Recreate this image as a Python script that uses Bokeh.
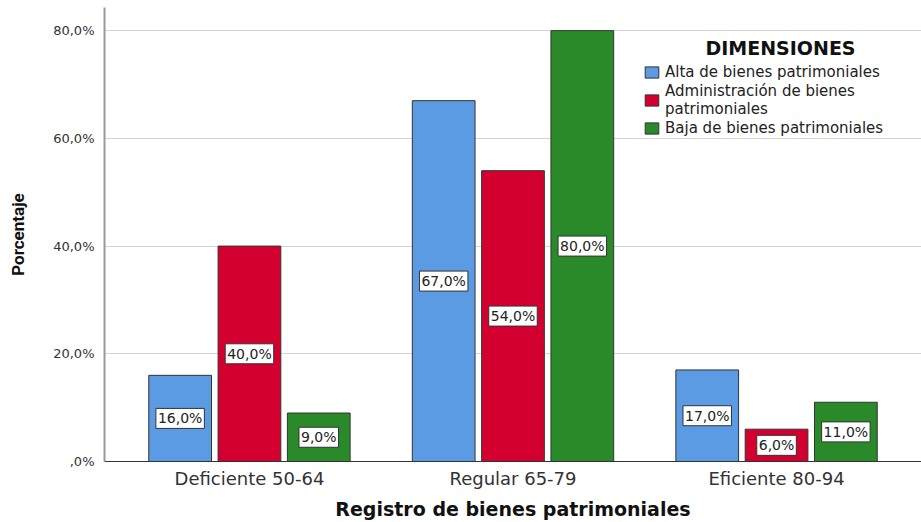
from bokeh.plotting import figure
from bokeh.models import (ColumnDataSource, FactorRange, Range1d, FixedTicker,
                          Legend, LegendItem, Label)
from bokeh.core.properties import value
from bokeh.transform import dodge
from bokeh.embed import file_html
from bokeh.resources import INLINE

categories = ["Deficiente 50-64", "Regular 65-79", "Eficiente 80-94"]
series_names = ["Alta de bienes patrimoniales",
                "Administración de bienes\npatrimoniales",
                "Baja de bienes patrimoniales"]
alta = [16.0, 67.0, 17.0]
administracion = [40.0, 54.0, 6.0]
baja = [9.0, 80.0, 11.0]
y_ticks = [0, 20, 40, 60, 80]
y_tick_labels = [",0%", "20,0%", "40,0%", "60,0%", "80,0%"]
colors = ["#5a9be3", "#d3002f", "#2a8a2a"]

def fmt(v):
    return ("%.1f" % v).replace(".", ",") + "%"

data = dict(cat=categories)
for key, vals in (("alta", alta), ("admin", administracion), ("baja", baja)):
    data[key] = vals
    data[key + "_mid"] = [v / 2 for v in vals]
    data[key + "_lab"] = [fmt(v) for v in vals]
src = ColumnDataSource(data)

p = figure(width=921, height=522, output_backend="svg", toolbar_location=None,
           x_range=FactorRange(factors=categories, range_padding=0.1 / 3),
           y_range=Range1d(0, 84.3))
p.min_border_left = 104
p.min_border_right = 0
p.min_border_top = 7
p.min_border_bottom = 61
p.outline_line_color = None

offsets = [-0.263, 0.0, 0.263]
keys = ["alta", "admin", "baja"]
renderers = []
for key, off, col in zip(keys, offsets, colors):
    r = p.vbar(x=dodge("cat", off, range=p.x_range), top=key, width=0.238, source=src,
               fill_color=col, line_color="#333333", line_width=1)
    renderers.append(r)
    p.text(x=dodge("cat", off, range=p.x_range), y=key + "_mid", text=key + "_lab",
           source=src, text_align="center", text_baseline="middle",
           text_font=value("DejaVu Sans"), text_font_size="14px", text_color="#222222",
           background_fill_color="white", border_line_color="#333333",
           border_line_width=1, padding=2)

legend = Legend(items=[LegendItem(label=n, renderers=[r]) for n, r in zip(series_names, renderers)],
                location=(539, 324), label_text_font="DejaVu Sans", label_text_font_size="15px",
                label_text_line_height=1.0, label_text_color="#222222",
                glyph_width=17, glyph_height=14, spacing=1, padding=4, border_line_color=None,
                background_fill_alpha=0, label_standoff=5, label_height=14)
p.add_layout(legend)

p.add_layout(Label(x=2.515, y=76.8, text="DIMENSIONES", text_font="DejaVu Sans",
                   text_font_style="bold", text_font_size="19px", text_align="center",
                   text_baseline="middle", text_color="#111111"))

p.xgrid.grid_line_color = None
p.ygrid.ticker = FixedTicker(ticks=y_ticks[1:])
p.ygrid.grid_line_color = "#d4d4d4"
p.ygrid.grid_line_width = 1

p.yaxis.ticker = FixedTicker(ticks=y_ticks)
p.yaxis.major_label_overrides = {t: l for t, l in zip(y_ticks, y_tick_labels)}
p.yaxis.major_tick_line_color = None
p.yaxis.minor_tick_line_color = None
p.yaxis.axis_line_color = "#999999"
p.yaxis.axis_line_width = 2
p.yaxis.major_label_text_font = "DejaVu Sans"
p.yaxis.major_label_text_font_size = "13px"
p.yaxis.major_label_text_color = "#333333"
p.yaxis.major_label_standoff = 4
p.yaxis.axis_label = "Porcentaje"
p.yaxis.axis_label_text_font = "Roboto"
p.yaxis.axis_label_text_font_style = "bold"
p.yaxis.axis_label_text_font_size = "17px"
p.yaxis.axis_label_text_color = "#111111"
p.yaxis.axis_label_standoff = 22

p.xaxis.major_tick_line_color = None
p.xaxis.minor_tick_line_color = None
p.xaxis.axis_line_color = "#333333"
p.xaxis.axis_line_width = 1
p.xaxis.major_label_text_font = "DejaVu Sans"
p.xaxis.major_label_text_font_size = "18px"
p.xaxis.major_label_text_color = "#333333"
p.xaxis.major_label_standoff = 0
p.xaxis.axis_label = "Registro de bienes patrimoniales"
p.xaxis.axis_label_text_font = "DejaVu Sans"
p.xaxis.axis_label_text_font_style = "bold"
p.xaxis.axis_label_text_font_size = "19px"
p.xaxis.axis_label_text_color = "#111111"
p.xaxis.axis_label_standoff = 6

open("out.html", "w").write(file_html(p, INLINE))
